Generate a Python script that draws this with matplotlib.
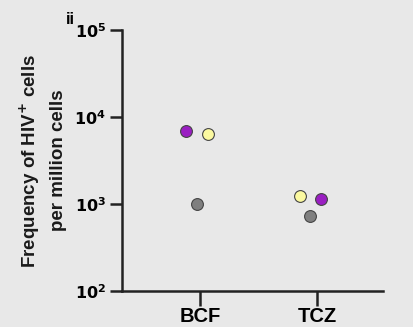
import numpy as np
import matplotlib
matplotlib.use('Agg')
import matplotlib.pyplot as plt

plt.rcParams['font.family'] = ['Liberation Sans', 'DejaVu Sans']

categories = ['BCF', 'TCZ']
purple_vals = [6900, 1140]
yellow_vals = [6400, 1230]
gray_vals = [1000, 730]

# small horizontal offsets per donor (scatter jitter as in the figure)
purple_dx = [-0.12, 0.035]
yellow_dx = [0.07, -0.145]
gray_dx = [-0.03, -0.06]

bg = '#e8e8e8'
fig = plt.figure(figsize=(4.14, 3.27), dpi=100, facecolor=bg)
ax = fig.add_axes([0.295, 0.110, 0.63, 0.798], facecolor=bg)

xpos = np.arange(len(categories))
for vals, dx, col in [(purple_vals, purple_dx, '#9a1ec2'),
                      (yellow_vals, yellow_dx, '#fbf9a0'),
                      (gray_vals, gray_dx, '#7f7f7f')]:
    ax.plot(xpos + np.array(dx), vals, 'o', color=col, markersize=8.5,
            markeredgecolor='#444444', markeredgewidth=0.8, zorder=3)

ax.set_yscale('log')
ax.set_ylim(1e2, 1e5)
ax.set_xlim(-0.667, 1.564)
ax.set_xticks(xpos)
ax.set_xticklabels(categories, fontsize=14.5, fontweight='bold')
ax.set_yticks([1e2, 1e3, 1e4, 1e5])
ax.set_yticklabels([r'$\mathbf{10^{2}}$', r'$\mathbf{10^{3}}$',
                    r'$\mathbf{10^{4}}$', r'$\mathbf{10^{5}}$'], fontsize=11.5)
ax.minorticks_off()
ax.tick_params(axis='y', width=1.8, length=8.5, color='#222222', pad=3)
ax.tick_params(axis='x', width=1.8, length=11, color='#222222', pad=0.5)

ax.spines['right'].set_visible(False)
ax.spines['top'].set_visible(False)
ax.spines['left'].set_linewidth(1.8)
ax.spines['bottom'].set_linewidth(1.8)
ax.spines['left'].set_color('#222222')
ax.spines['bottom'].set_color('#222222')

ax.set_ylabel('Frequency of HIV$\\mathbf{^{+}}$ cells\nper million cells', fontsize=13.5,
              fontweight='bold', labelpad=5, linespacing=1.65, color='#1a1a1a')
fig.text(0.17, 0.94, 'ii', fontsize=12, fontweight='bold', ha='center', va='center')

fig.savefig('out.png', dpi=100, facecolor=bg)
